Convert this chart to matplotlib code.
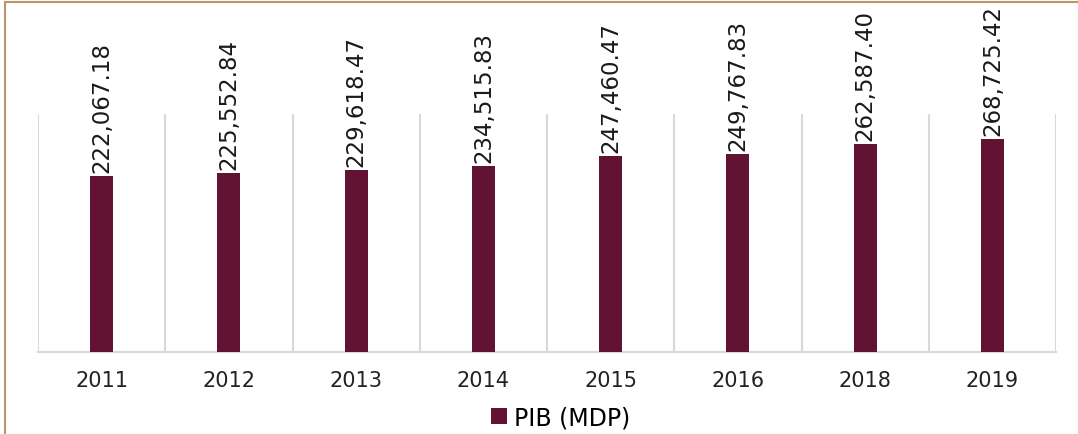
import numpy as np
import matplotlib
matplotlib.use('Agg')
import matplotlib.pyplot as plt
from matplotlib.lines import Line2D

years = ['2011', '2012', '2013', '2014', '2015', '2016', '2018', '2019']
pib = [222067.18, 225552.84, 229618.47, 234515.83, 247460.47, 249767.83, 262587.40, 268725.42]

barColor = '#621232'
gridColor = '#D9D9D9'
frameColor = '#B8976A'

fig = plt.figure(figsize=(10.78, 4.35), dpi=100)
ax = fig.add_axes([0.0353, 0.1885, 0.9443, 0.5471])

x = np.arange(len(years))
bars = ax.bar(x, pib, width=0.18, color=barColor, label='PIB (MDP)', zorder=3)

for b, v in zip(bars, pib):
	ax.annotate('{:,.2f}'.format(v), (b.get_x() + b.get_width() / 2, b.get_height()),
		xytext=(0, 3), textcoords='offset points', rotation=90,
		ha='center', va='bottom', fontsize=16.5, color='#1a1a1a', annotation_clip=False)

ax.set_xlim(-0.5, len(years) - 0.5)
ax.set_ylim(0, 300000)
ax.set_xticks(x)
ax.set_xticklabels(years, fontsize=15, color='#222222')
ax.set_xticks(np.arange(len(years) + 1) - 0.5, minor=True)
ax.tick_params(axis='x', which='both', length=0, pad=13)
ax.grid(True, axis='x', which='minor', color=gridColor, linewidth=1.5, zorder=0)
ax.set_yticks([])
for s in ['top', 'left', 'right']:
	ax.spines[s].set_visible(False)
ax.spines['bottom'].set_color(gridColor)
ax.spines['bottom'].set_linewidth(1.5)

fig.legend(loc='center', bbox_to_anchor=(0.52, 0.039), frameon=False, fontsize=17,
	handlelength=0.65, handleheight=0.65, handletextpad=0.3, borderpad=0)

# frame lines (top and left)
fig.add_artist(Line2D([0.0046, 1.0], [0.993, 0.993], transform=fig.transFigure, color=frameColor, linewidth=1.5))
fig.add_artist(Line2D([0.0046, 0.0046], [0.0, 0.993], transform=fig.transFigure, color=frameColor, linewidth=1.5))

fig.savefig('out.png', dpi=100)
